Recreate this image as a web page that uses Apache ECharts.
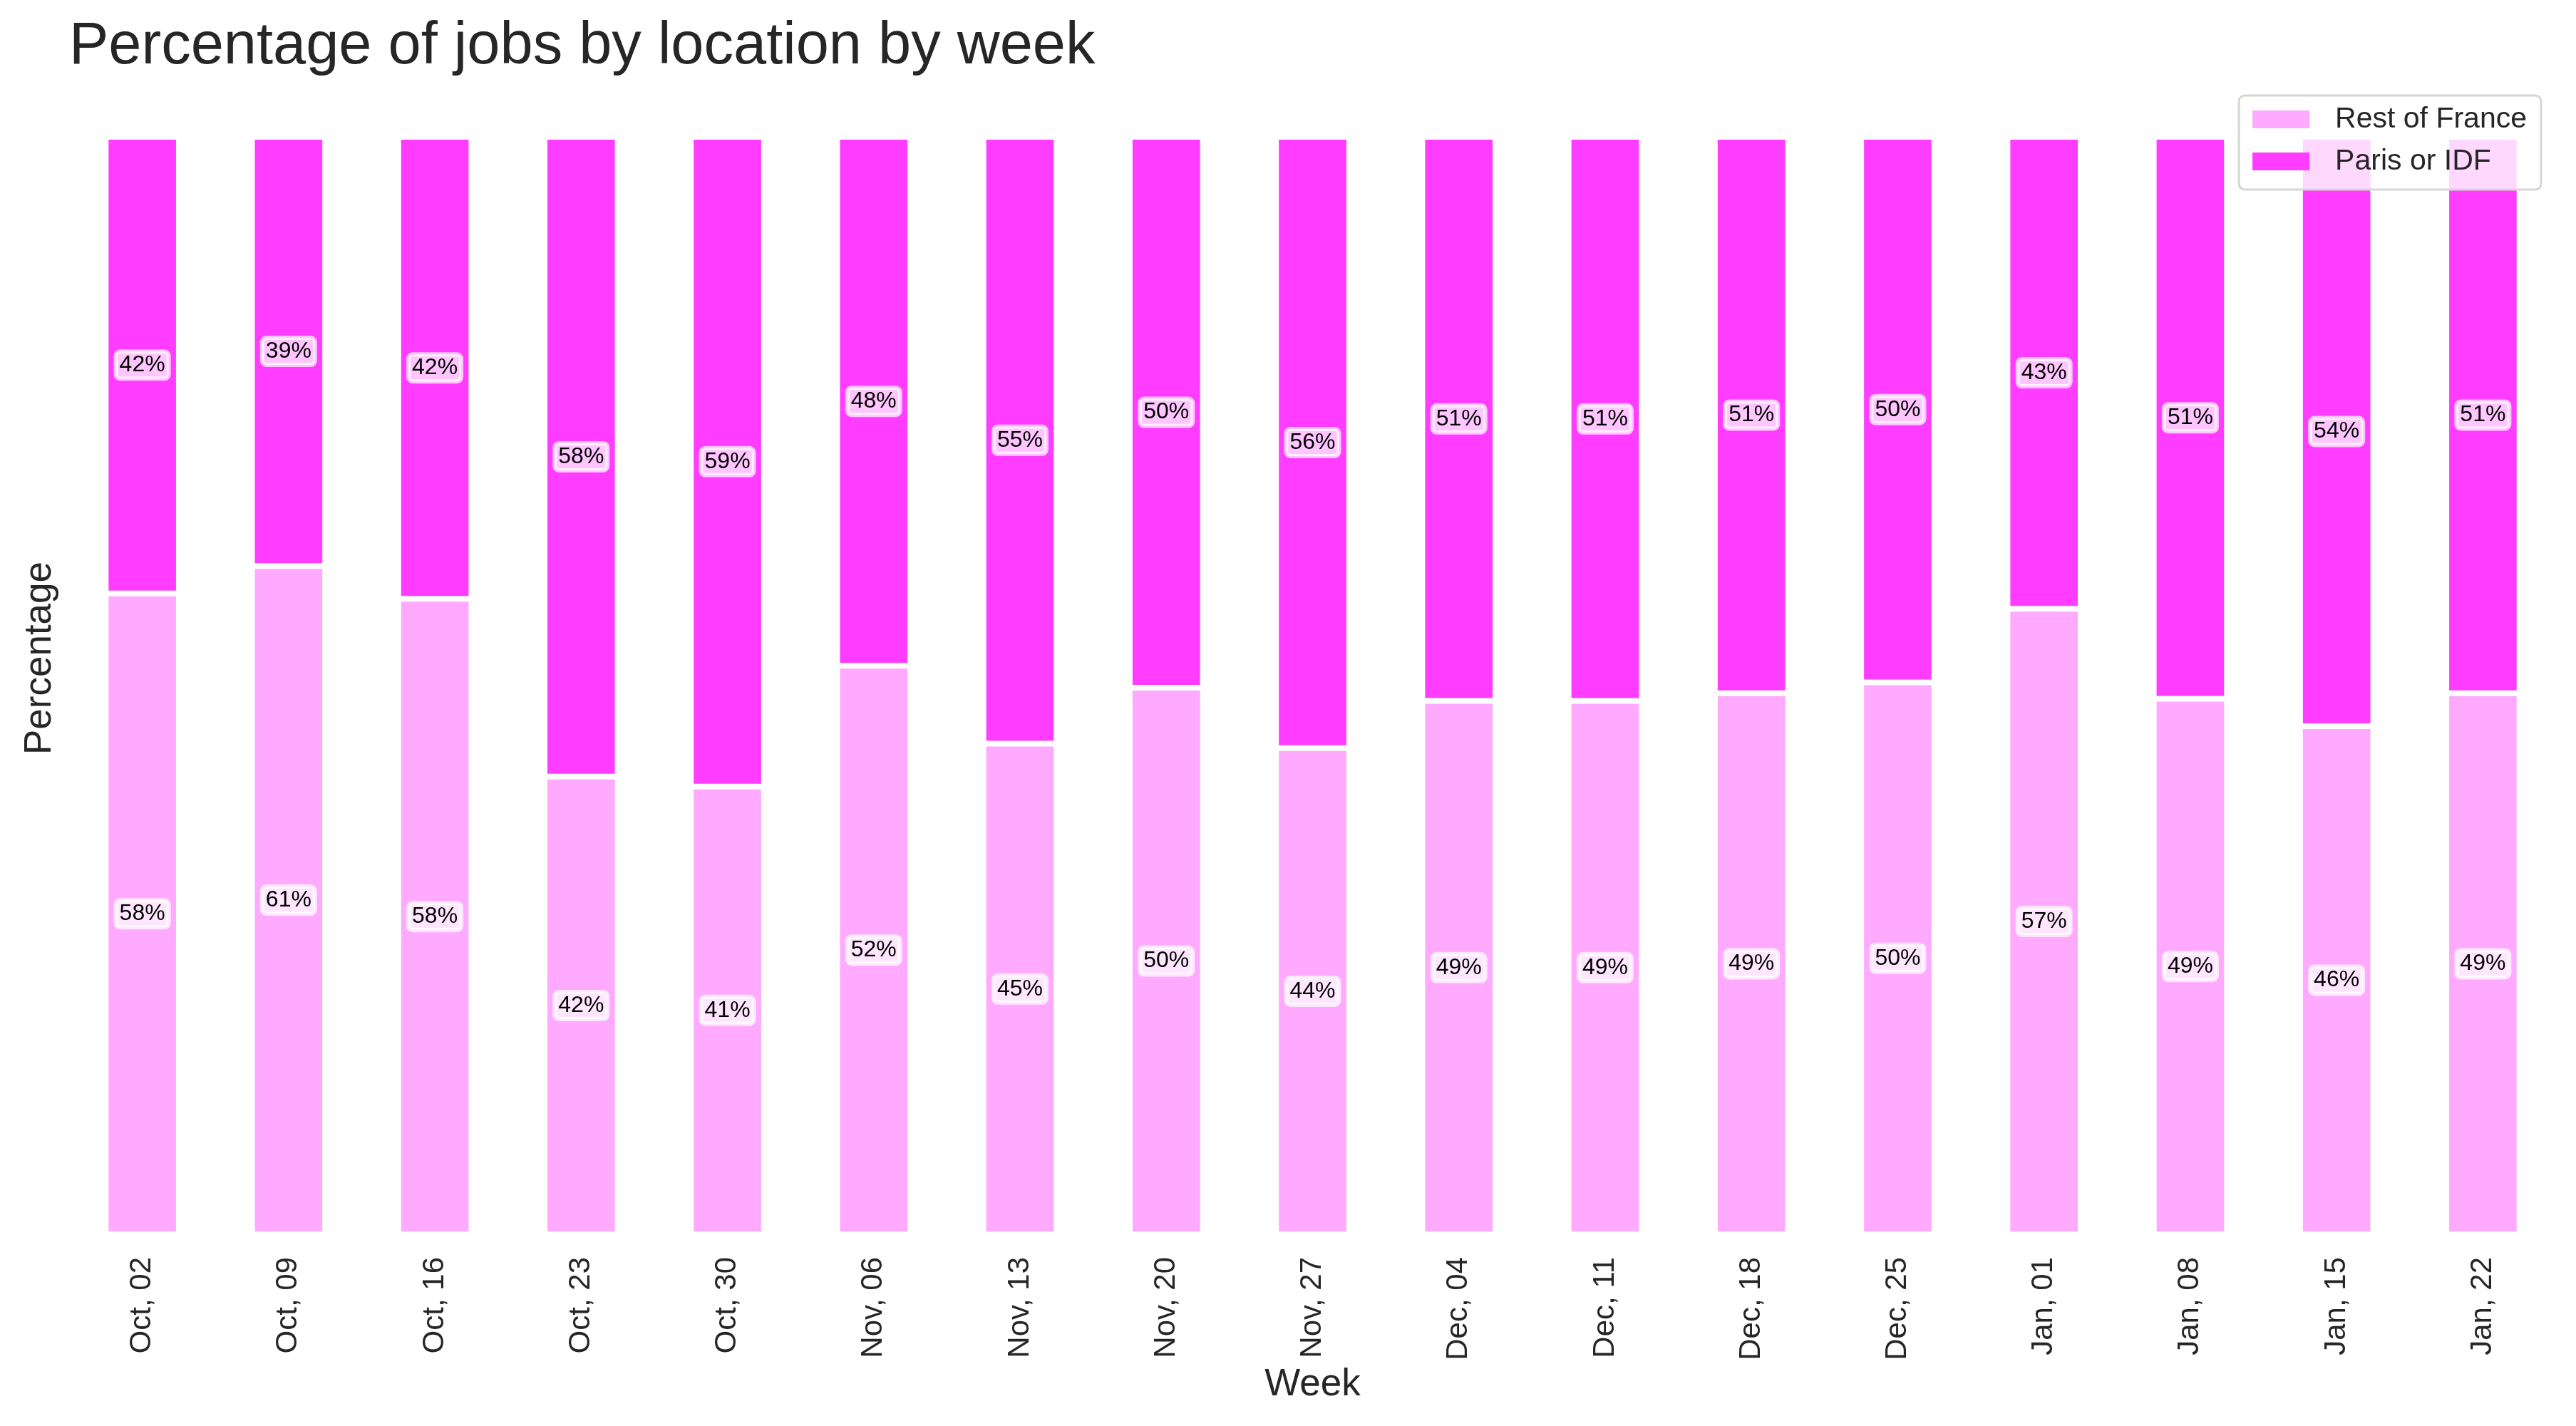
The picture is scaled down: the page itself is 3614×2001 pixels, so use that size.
<!DOCTYPE html>
<html>
<head>
<meta charset="utf-8">
<script src="https://cdn.jsdelivr.net/npm/echarts@6/dist/echarts.min.js"></script>
<style>
  html, body { margin: 0; padding: 0; background: #fff; }
  #chart { width: 3614px; height: 2001px; }
</style>
</head>
<body>
<div id="chart"></div>
<script>
var weeks = ['Oct, 02', 'Oct, 09', 'Oct, 16', 'Oct, 23', 'Oct, 30', 'Nov, 06', 'Nov, 13', 'Nov, 20', 'Nov, 27',
             'Dec, 04', 'Dec, 11', 'Dec, 18', 'Dec, 25', 'Jan, 01', 'Jan, 08', 'Jan, 15', 'Jan, 22'];
// percentages
var restOfFrance = [58.4, 60.9, 57.9, 41.7, 40.8, 51.8, 44.7, 49.8, 44.3, 48.6, 48.6, 49.3, 50.3, 57.0, 48.8, 46.3, 49.3];
var parisIdf     = [41.6, 39.1, 42.1, 58.3, 59.2, 48.2, 55.3, 50.2, 55.7, 51.4, 51.4, 50.7, 49.7, 43.0, 51.2, 53.7, 50.7];

var FONT = "'Liberation Sans', Arial, sans-serif";
var TEXT = '#262626';

var chartDom = document.getElementById('chart');
var myChart = echarts.init(chartDom);

function barLabel() {
    return {
        show: true,
        position: 'inside',
        formatter: function (p) { return Math.round(p.value) + '%'; },
        fontFamily: FONT,
        fontSize: 32,
        color: '#000',
        backgroundColor: 'rgba(255,255,255,0.7)',
        borderColor: 'rgba(255,255,255,0.7)',
        borderWidth: 3,
        borderRadius: 6,
        padding: [3, 5, 3, 5]
    };
}

var option = {
    animation: false,
    backgroundColor: '#fff',
    title: {
        text: 'Percentage of jobs by location by week',
        left: 92,
        top: 20,
        textStyle: { fontFamily: FONT, fontSize: 83, fontWeight: 'normal', color: TEXT }
    },
    legend: {
        orient: 'vertical',
        right: 49,
        top: 134,
        data: ['Rest of France', 'Paris or IDF'],
        icon: 'rect',
        itemWidth: 80,
        itemHeight: 25,
        itemGap: 18,
        itemStyle: { borderWidth: 0 },
        padding: [13, 20, 19, 19],
        backgroundColor: 'rgba(255,255,255,0.8)',
        borderColor: '#d6d6d6',
        borderWidth: 3,
        borderRadius: 8,
        textStyle: { fontFamily: FONT, fontSize: 41, color: TEXT, padding: [0, 0, 0, 31] }
    },
    grid: { left: 97, right: 28, top: 115, bottom: 269 },
    xAxis: {
        type: 'category',
        data: weeks,
        name: 'Week',
        nameLocation: 'middle',
        nameGap: 185,
        nameTextStyle: { fontFamily: FONT, fontSize: 53, color: TEXT },
        axisLine: { show: false },
        axisTick: { show: false },
        axisLabel: { rotate: 90, margin: 32, fontFamily: FONT, fontSize: 42, color: TEXT, interval: 0 }
    },
    yAxis: {
        type: 'value',
        min: 0,
        max: 105,
        name: 'Percentage',
        nameLocation: 'middle',
        nameRotate: 90,
        nameGap: 14,
        nameTextStyle: { fontFamily: FONT, fontSize: 53, color: TEXT },
        axisLine: { show: false },
        axisTick: { show: false },
        axisLabel: { show: false },
        splitLine: { show: false }
    },
    series: [{
        name: 'Rest of France',
        type: 'bar',
        stack: 'total',
        barWidth: '50%',
        data: restOfFrance,
        itemStyle: { color: '#ffaaff', borderColor: '#fff', borderWidth: 4 },
        label: barLabel()
    }, {
        name: 'Paris or IDF',
        type: 'bar',
        stack: 'total',
        barWidth: '50%',
        data: parisIdf,
        itemStyle: { color: '#ff3cff', borderColor: '#fff', borderWidth: 4 },
        label: barLabel()
    }]
};

myChart.setOption(option);
</script>
</body>
</html>
